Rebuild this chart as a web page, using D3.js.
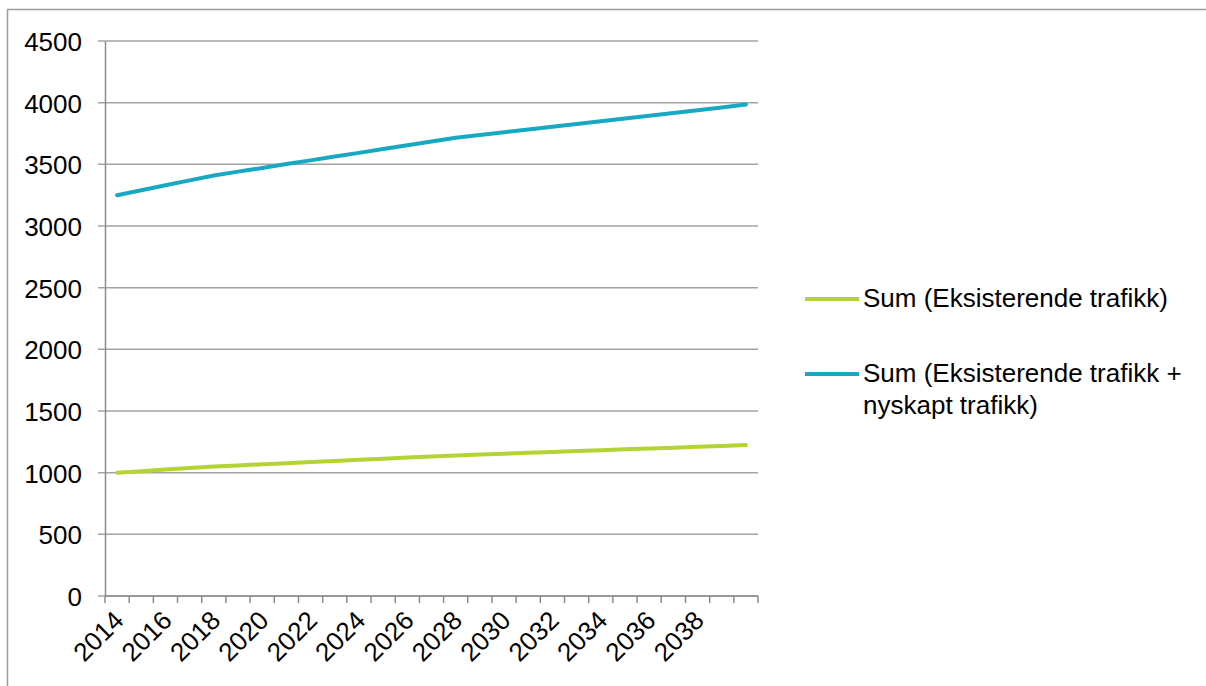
<!DOCTYPE html>
<html>
<head>
<meta charset="utf-8">
<script src="https://cdn.jsdelivr.net/npm/d3@7"></script>
<style>
    body { margin: 0; background: #fff; }
    svg text { font-family: "Liberation Sans", Arial, sans-serif; fill: #000; }
</style>
</head>
<body>
<div id="chart"></div>
<script>
// data
const years = [2014, 2015, 2016, 2017, 2018, 2019, 2020, 2021, 2022, 2023, 2024, 2025, 2026,
    2027, 2028, 2029, 2030, 2031, 2032, 2033, 2034, 2035, 2036, 2037, 2038, 2039, 2040];
const existingTraffic = [1000, 1012, 1025, 1038, 1050, 1059, 1068, 1077, 1086, 1095, 1104, 1113, 1122,
    1131, 1140, 1147, 1154, 1161, 1168, 1175, 1182, 1189, 1196, 1203, 1210, 1217, 1224];
const totalTraffic = [3250, 3290, 3330, 3370, 3410, 3441, 3471, 3502, 3532, 3563, 3593, 3624, 3654,
    3685, 3715, 3737, 3760, 3782, 3804, 3827, 3849, 3871, 3894, 3916, 3938, 3961, 3985];
const yTicks = [0, 500, 1000, 1500, 2000, 2500, 3000, 3500, 4000, 4500];
const xTickLabels = [2014, 2016, 2018, 2020, 2022, 2024, 2026, 2028, 2030, 2032, 2034, 2036, 2038];
const seriesNames = [["Sum (Eksisterende trafikk)"], ["Sum (Eksisterende trafikk +", "nyskapt trafikk)"]];
const seriesColors = ["#b4d335", "#17a9c1"];

class LineChart {
    constructor(_config = {}) {
        this.config = {
            parentElement: _config.parentElement,
            containerWidth: 1206,
            containerHeight: 686,
            plot: { left: 105, right: 758, top: 41, bottom: 596 },
            fontSize: 26
        }
        this.initVis();
    }

    initVis() {
        let vis = this;
        let { parentElement, containerWidth, containerHeight, plot, fontSize } = vis.config;

        vis.svg = d3.select(parentElement)
            .append("svg")
            .attr("width", containerWidth)
            .attr("height", containerHeight);

        // outer frame
        vis.svg.append("rect")
            .attr("x", 7.5)
            .attr("y", 9.5)
            .attr("width", containerWidth + 20)
            .attr("height", containerHeight + 20)
            .attr("fill", "none")
            .attr("stroke", "#9c9c9c")
            .attr("stroke-width", 1.5);

        // scales
        vis.x = d3.scaleBand()
            .domain(years)
            .range([plot.left, plot.right]);

        vis.y = d3.scaleLinear()
            .domain([0, 4500])
            .range([plot.bottom, plot.top]);

        // gridlines
        vis.svg.append("g")
            .selectAll("line")
            .data(yTicks)
            .join("line")
            .attr("x1", plot.left - 7)
            .attr("x2", plot.right)
            .attr("y1", d => vis.y(d))
            .attr("y2", d => vis.y(d))
            .attr("stroke", "#a3a3a3")
            .attr("stroke-width", 1.5);

        // y axis
        let yAxis = vis.svg.append("g")
            .attr("transform", `translate(${plot.left},0)`)
            .call(d3.axisLeft(vis.y).tickValues(yTicks).tickFormat(d3.format("d")).tickSize(0).tickPadding(23));
        yAxis.select(".domain").attr("stroke", "#8c8c8c").attr("stroke-width", 1.5);
        yAxis.selectAll("text").attr("font-size", fontSize).attr("dy", "0.36em");

        // x axis (category ticks sit between the categories)
        let xAxisG = vis.svg.append("g")
            .attr("transform", `translate(0,${plot.bottom})`);
        xAxisG.append("line")
            .attr("x1", plot.left)
            .attr("x2", plot.right)
            .attr("stroke", "#8c8c8c")
            .attr("stroke-width", 1.5);
        xAxisG.selectAll(".tick-mark")
            .data(years.concat([null]))
            .join("line")
            .attr("class", "tick-mark")
            .attr("x1", (d, i) => plot.left + i * vis.x.step())
            .attr("x2", (d, i) => plot.left + i * vis.x.step())
            .attr("y1", 0)
            .attr("y2", 7)
            .attr("stroke", "#8c8c8c")
            .attr("stroke-width", 1.5);
        xAxisG.selectAll(".tick-label")
            .data(xTickLabels)
            .join("text")
            .attr("class", "tick-label")
            .attr("text-anchor", "end")
            .attr("font-size", fontSize)
            .attr("dy", "0.71em")
            .attr("transform", d => `translate(${vis.x(d) + vis.x.bandwidth() / 2 - 5},13) rotate(-45)`)
            .text(d => d);

        vis.renderVis();
    }

    renderVis() {
        let vis = this;
        let { fontSize } = vis.config;

        let line = d3.line()
            .x((d, i) => vis.x(years[i]) + vis.x.bandwidth() / 2)
            .y(d => vis.y(d));

        vis.svg.selectAll(".series")
            .data([existingTraffic, totalTraffic])
            .join("path")
            .attr("class", "series")
            .attr("d", d => line(d))
            .attr("fill", "none")
            .attr("stroke", (d, i) => seriesColors[i])
            .attr("stroke-width", 4)
            .attr("stroke-linejoin", "round")
            .attr("stroke-linecap", "round");

        // legend
        let legendY = [299, 374];
        let legend = vis.svg.selectAll(".legend")
            .data(seriesNames)
            .join("g")
            .attr("class", "legend")
            .attr("transform", (d, i) => `translate(805,${legendY[i]})`);

        legend.append("line")
            .attr("x1", 0)
            .attr("x2", 54)
            .attr("stroke", (d, i) => seriesColors[i])
            .attr("stroke-width", 4);

        legend.append("text")
            .attr("font-size", fontSize)
            .attr("y", 8)
            .selectAll("tspan")
            .data(d => d)
            .join("tspan")
            .attr("x", 58)
            .attr("dy", (d, i) => i === 0 ? 0 : 32)
            .text(d => d);
    }
}

new LineChart({ parentElement: "#chart" });
</script>
</body>
</html>
